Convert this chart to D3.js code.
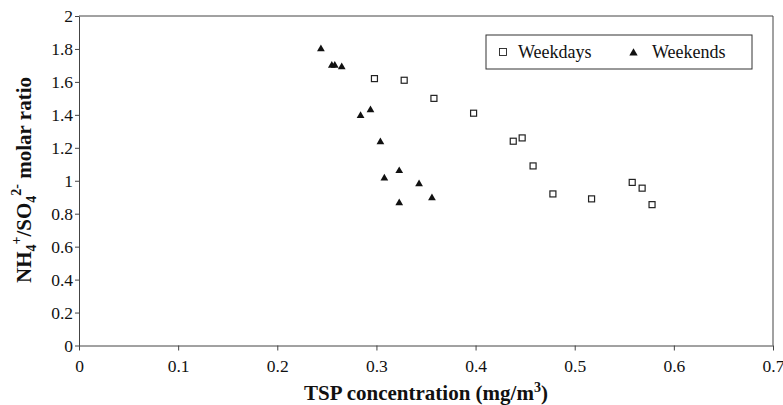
<!DOCTYPE html>
<html>
<head>
<meta charset="utf-8">
<script src="https://cdn.jsdelivr.net/npm/d3@7"></script>
</head>
<body style="margin:0; background:white">
<div id="chart"></div>
<script>
// weekdays (open squares)
var weekdayTSP   = [0.298, 0.328, 0.358, 0.398, 0.438, 0.447, 0.458, 0.478, 0.517, 0.558, 0.568, 0.578];
var weekdayRatio = [1.62, 1.61, 1.50, 1.41, 1.24, 1.26, 1.09, 0.92, 0.89, 0.99, 0.955, 0.855];
// weekends (filled triangles)
var weekendTSP   = [0.244, 0.255, 0.258, 0.265, 0.284, 0.294, 0.304, 0.308, 0.323, 0.323, 0.343, 0.356];
var weekendRatio = [1.80, 1.70, 1.70, 1.69, 1.395, 1.43, 1.235, 1.015, 1.06, 0.865, 0.98, 0.895];

var xTicks = [0, 0.1, 0.2, 0.3, 0.4, 0.5, 0.6, 0.7];
var yTicks = [0, 0.2, 0.4, 0.6, 0.8, 1, 1.2, 1.4, 1.6, 1.8, 2];

var W = 783, H = 405;
var FONT = "Liberation Serif";

var svg = d3.select("#chart").append("svg")
  .attr("width", W).attr("height", H)
  .style("background", "white");

var xscale = d3.scaleLinear().domain([0, 0.7]).range([79, 773]);
var yscale = d3.scaleLinear().domain([0, 2]).range([345.5, 16]);

// plot area frame (top and right)
svg.append("path")
  .attr("d", "M" + xscale(0) + "," + yscale(2) + "H" + xscale(0.7) + "V" + yscale(0))
  .attr("fill", "none").attr("stroke", "#444").attr("stroke-width", 1);

var xAxis = svg.append("g")
  .attr("transform", "translate(0," + yscale(0) + ")")
  .call(d3.axisBottom(xscale).tickValues(xTicks).tickSize(5).tickSizeOuter(0).tickPadding(9)
    .tickFormat(d3.format("")));
var yAxis = svg.append("g")
  .attr("transform", "translate(" + xscale(0) + ",0)")
  .call(d3.axisLeft(yscale).tickValues(yTicks).tickSize(4).tickSizeOuter(0).tickPadding(2)
    .tickFormat(d3.format("")));

svg.selectAll(".domain, .tick line").attr("stroke", "#444").attr("stroke-width", 1);
svg.selectAll(".tick text")
  .attr("font-family", FONT).attr("font-size", 17.5)
  .attr("fill", "#111");

// weekday squares
var wd = weekdayTSP.map((x, i) => ({x: x, y: weekdayRatio[i]}));
svg.append("g").selectAll("rect")
  .data(wd).enter().append("rect")
  .attr("x", d => xscale(d.x) - 3)
  .attr("y", d => yscale(d.y) - 3)
  .attr("width", 6).attr("height", 6)
  .attr("fill", "white").attr("stroke", "#222").attr("stroke-width", 1.2);

// weekend triangles
var we = weekendTSP.map((x, i) => ({x: x, y: weekendRatio[i]}));
var tri = d3.symbol().type(d3.symbolTriangle).size(26);
svg.append("g").selectAll("path")
  .data(we).enter().append("path")
  .attr("d", tri)
  .attr("transform", d => "translate(" + xscale(d.x) + "," + yscale(d.y) + ")")
  .attr("fill", "#111");

// legend
var leg = svg.append("g");
leg.append("rect")
  .attr("x", 486).attr("y", 35).attr("width", 266).attr("height", 34)
  .attr("fill", "white").attr("stroke", "#333").attr("stroke-width", 1);
leg.append("rect")
  .attr("x", 499.5).attr("y", 48.5).attr("width", 7).attr("height", 7)
  .attr("fill", "white").attr("stroke", "#222").attr("stroke-width", 0.9);
leg.append("text").attr("x", 518).attr("y", 58)
  .attr("font-family", FONT).attr("font-size", 18)
  .attr("fill", "#111").text("Weekdays");
leg.append("path")
  .attr("d", d3.symbol().type(d3.symbolTriangle).size(30))
  .attr("transform", "translate(633.5,53)")
  .attr("fill", "#111");
leg.append("text").attr("x", 652).attr("y", 58)
  .attr("font-family", FONT).attr("font-size", 18)
  .attr("fill", "#111").text("Weekends");

// axis titles
var xt = svg.append("text")
  .attr("x", 426).attr("y", 400)
  .attr("text-anchor", "middle")
  .attr("font-family", FONT).attr("font-size", 21).attr("font-weight", "bold").attr("fill", "#111");
xt.append("tspan").text("TSP concentration (mg/m");
xt.append("tspan").attr("dy", -8).attr("font-size", 14).text("3");
xt.append("tspan").attr("dy", 8).text(")");

var yt = svg.append("text")
  .attr("transform", "translate(31,180) rotate(-90)")
  .attr("text-anchor", "middle")
  .attr("font-family", FONT).attr("font-size", 21).attr("font-weight", "bold").attr("fill", "#111");
yt.append("tspan").text("NH");
yt.append("tspan").attr("dy", 5).attr("font-size", 14).text("4");
yt.append("tspan").attr("dy", -15).attr("font-size", 14).text("+");
yt.append("tspan").attr("dy", 10).text("/SO");
yt.append("tspan").attr("dy", 5).attr("font-size", 14).text("4");
yt.append("tspan").attr("dy", -15).attr("font-size", 14).text("2-");
yt.append("tspan").attr("dy", 10).text(" molar ratio");
</script>
</body>
</html>
